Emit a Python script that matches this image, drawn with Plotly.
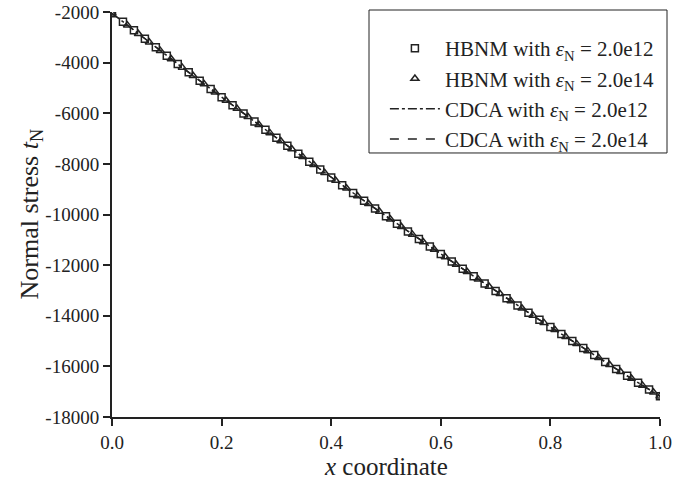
import plotly.graph_objects as go

# HBNM with eps_N = 2.0e12 (squares)
hbnm12_x = [round(0.02 * i, 2) for i in range(51)]
hbnm12_y = [-2050, -2388, -2724, -3059, -3393, -3725, -4056, -4385, -4713, -5039,
            -5364, -5687, -6010, -6330, -6649, -6967, -7283, -7598, -7912, -8224,
            -8534, -8843, -9151, -9457, -9762, -10065, -10367, -10667, -10966, -11264,
            -11560, -11855, -12148, -12440, -12730, -13019, -13307, -13593, -13877, -14160,
            -14442, -14722, -15001, -15279, -15554, -15829, -16102, -16374, -16644, -16913,
            -17180]

# HBNM with eps_N = 2.0e14 (triangles)
hbnm14_x = [0.0, 0.028, 0.048, 0.068, 0.088, 0.108, 0.128, 0.148, 0.168, 0.188,
            0.208, 0.228, 0.248, 0.268, 0.288, 0.308, 0.328, 0.348, 0.368, 0.388,
            0.408, 0.428, 0.448, 0.468, 0.488, 0.508, 0.528, 0.548, 0.568, 0.588,
            0.608, 0.628, 0.648, 0.668, 0.688, 0.708, 0.728, 0.748, 0.768, 0.788,
            0.808, 0.828, 0.848, 0.868, 0.888, 0.908, 0.928, 0.948, 0.968, 0.988, 1.0]
hbnm14_y = [-2050, -2522, -2858, -3192, -3526, -3857, -4188, -4516, -4843, -5169,
            -5493, -5816, -6138, -6457, -6776, -7093, -7409, -7723, -8036, -8348,
            -8657, -8966, -9273, -9578, -9883, -10185, -10487, -10786, -11084, -11382,
            -11677, -11972, -12264, -12555, -12845, -13133, -13421, -13706, -13990, -14272,
            -14553, -14833, -15111, -15389, -15663, -15938, -16210, -16481, -16751, -17019,
            -17180]

# CDCA curves (coincide with HBNM results)
cdca12_x = hbnm12_x
cdca12_y = hbnm12_y
cdca14_x = hbnm12_x
cdca14_y = hbnm12_y

y_ticks = [-2000, -4000, -6000, -8000, -10000, -12000, -14000, -16000, -18000]
y_tick_text = ["-2000", "-4000", "-6000", "-8000", "-10000", "-12000", "-14000", "-16000", "-18000"]
x_ticks = [0.0, 0.2, 0.4, 0.6, 0.8, 1.0]
x_tick_text = ["0.0", "0.2", "0.4", "0.6", "0.8", "1.0"]

FONT = "Liberation Serif"
INK = "#222222"

fig = go.Figure()
fig.add_trace(go.Scatter(x=cdca12_x, y=cdca12_y, mode="lines", showlegend=False,
                         line=dict(color=INK, width=1.5, dash="dashdot")))
fig.add_trace(go.Scatter(x=cdca14_x, y=cdca14_y, mode="lines", showlegend=False,
                         line=dict(color=INK, width=1.5, dash="dash")))
fig.add_trace(go.Scatter(x=hbnm12_x, y=hbnm12_y, mode="markers",
                         name="HBNM with <i>ε</i><sub>N</sub> = 2.0e12",
                         marker=dict(symbol="square-open", size=7, color=INK,
                                     line=dict(width=1.5, color=INK))))
fig.add_trace(go.Scatter(x=hbnm14_x, y=hbnm14_y, mode="markers",
                         name="HBNM with <i>ε</i><sub>N</sub> = 2.0e14",
                         marker=dict(symbol="triangle-up-open", size=7, color=INK,
                                     line=dict(width=1.5, color=INK))))
fig.add_trace(go.Scatter(x=[None], y=[None], mode="lines",
                         name="CDCA with <i>ε</i><sub>N</sub> = 2.0e12",
                         line=dict(color=INK, width=1.5, dash="dashdot")))
fig.add_trace(go.Scatter(x=[None], y=[None], mode="lines",
                         name="CDCA with <i>ε</i><sub>N</sub> = 2.0e14",
                         line=dict(color=INK, width=1.5, dash="dash")))

axis_common = dict(showgrid=False, zeroline=False, showline=True, linecolor=INK,
                   linewidth=2, ticks="outside", ticklen=7, tickwidth=2, tickcolor=INK,
                   tickfont=dict(family=FONT, size=19, color=INK), mirror=False,
                   automargin=False)

fig.update_layout(
    width=686, height=482,
    margin=dict(l=112, r=26, t=12, b=65),
    paper_bgcolor="white", plot_bgcolor="white",
    font=dict(family=FONT, size=19, color=INK),
    xaxis=dict(range=[0, 1.0], tickvals=x_ticks, ticktext=x_tick_text, **axis_common),
    yaxis=dict(range=[-18000, -2000], tickvals=y_ticks, ticktext=y_tick_text, **axis_common),
    legend=dict(x=0.498, y=0.9605, xanchor="left", yanchor="top",
                borderwidth=0, bgcolor="rgba(0,0,0,0)",
                font=dict(family=FONT, size=21, color=INK),
                itemwidth=50, tracegroupgap=0),
    showlegend=True,
    shapes=[dict(type="rect", xref="paper", yref="paper",
                 x0=0.469, x1=1.0128, y0=0.6519, y1=1.0049,
                 line=dict(color=INK, width=1), fillcolor="white", layer="below")],
    annotations=[
        dict(text="<i>x</i> coordinate", xref="paper", yref="paper", x=0.5, y=-0.1215,
             xanchor="center", yanchor="middle", showarrow=False,
             font=dict(family=FONT, size=25, color=INK)),
        dict(text="Normal stress <i>t</i><sub>N</sub>", xref="paper", yref="paper",
             x=-0.1496, y=0.5, xanchor="center", yanchor="middle", textangle=-90,
             showarrow=False, font=dict(family=FONT, size=26, color=INK)),
    ],
)

fig.write_html("out.html")
